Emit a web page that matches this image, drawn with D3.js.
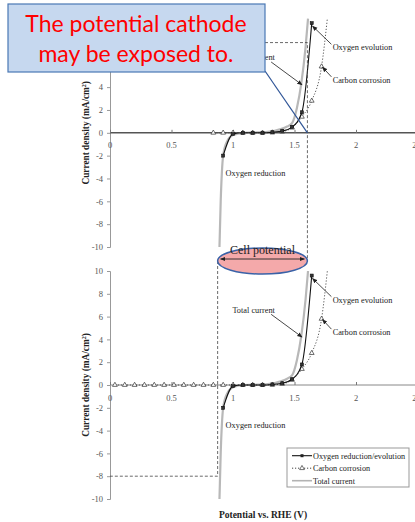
<!DOCTYPE html>
<html><head><meta charset="utf-8">
<script src="https://cdn.jsdelivr.net/npm/d3@7"></script>
<style>body{margin:0;background:#fff}svg{display:block}</style>
</head><body>
<svg id="c" width="415" height="522"></svg>
<script>
// ---------- data ----------
const xTicks = [0, 0.5, 1, 1.5, 2, 2.5];
const xTickLabels = ["0", "0.5", "1", "1.5", "2", "2.5"];
const yTicks = [-10, -8, -6, -4, -2, 0, 2, 4, 6, 8, 10];
const yTickLabels = ["-10", "-8", "-6", "-4", "-2", "0", "2", "4", "6", "8", "10"];
// the top panel's upper tick labels are hidden under the callout box in the reference
const yTickLabelsTopHidden = [6, 8, 10];

const oxygenPoints = [[0.92,-2],[1.0,-0.1],[1.08,0],[1.16,0],[1.24,0],[1.32,0.05],[1.40,0.15],[1.48,0.5],[1.56,1.8],[1.64,9.6]];
const totalCurrent = [[0.89,-10],[0.9,-6],[0.91,-3.4],[0.92,-2],[0.95,-0.8],[1.0,-0.2],[1.08,0],[1.2,0.03],[1.3,0.1],[1.38,0.3],[1.44,0.55],[1.48,0.85],[1.52,2.2],[1.555,4.3],[1.59,7.5],[1.61,10]];
const carbonX = [0.04,0.12,0.2,0.28,0.36,0.44,0.52,0.6,0.68,0.76,0.84,0.92,1.0,1.08,1.16,1.24,1.32,1.40,1.48,1.56,1.64,1.72];
const carbonY = [0,0,0,0,0,0,0,0,0,0,0,0,0,0,0,0,0.02,0.1,0.45,1.4,2.8,5.8];
const carbonEnd = [1.767, 10];

const seriesNames = ["Oxygen reduction/evolution", "Carbon corrosion", "Total current"];
const labels = [
  {text:"Oxygen evolution", x:1.81, y:7.5, ax:[1.80,7.75], at:[1.646,9.35]},
  {text:"Carbon corrosion", x:1.81, y:4.65, ax:[1.80,4.9], at:[1.727,5.75]},
  {text:"Total current", x:0.995, y:6.6, ax:[1.31,6.2], at:[1.562,4.2]},
  {text:"Oxygen reduction", x:0.94, y:-3.5}
];
const dashTop = {x:1.605, y:7.9};
const dashBottom = {x:0.875, y:-8};
const calloutLines = ["The potential cathode", "may be exposed to."];
const cellPotentialText = "Cell potential";

// ---------- scales ----------
const svg = d3.select("#c");
const x = d3.scaleLinear().domain([0, 2.5]).range([110, 417.5]);
const yTop = d3.scaleLinear().domain([-10, 10]).range([247, 18.6]);
const yBot = d3.scaleLinear().domain([-10, 10]).range([499, 271]);
const serif = "'Liberation Serif','Times New Roman',serif";

const defs = svg.append("defs");
defs.append("marker").attr("id","ah").attr("viewBox","0 0 10 10").attr("refX",9).attr("refY",5)
  .attr("markerWidth",6).attr("markerHeight",6).attr("orient","auto-start-reverse")
  .append("path").attr("d","M0,1 L10,5 L0,9 Z").attr("fill","#222");

function drawChart(y, carbonStart, axisColor, axisWidth, hiddenLabels) {
  const g = svg.append("g");
  // y axis
  const ya = g.append("g").attr("transform", `translate(${x(0)},0)`)
    .call(d3.axisLeft(y).tickValues(yTicks).tickSize(3).tickPadding(4)
      .tickFormat((d,i)=>hiddenLabels.includes(d) ? "" : yTickLabels[i]));
  ya.select(".domain").attr("stroke","#999");
  ya.selectAll(".tick line").attr("stroke","#999");
  ya.selectAll("text").attr("font-family",serif).attr("font-size",8.5).attr("fill","#555");
  // x axis at y=0
  const xa = g.append("g").attr("transform", `translate(0,${y(0)})`)
    .call(d3.axisTop(x).tickValues(xTicks).tickSize(3).tickFormat(""));
  xa.select(".domain").attr("stroke",axisColor).attr("stroke-width",axisWidth).attr("d",`M${x(0)},0H415`);
  xa.selectAll(".tick line").attr("stroke","#777");
  g.selectAll(".xl").data(xTicks).enter().append("text")
    .attr("x",d=>x(d)).attr("y",y(0)+15.5).attr("text-anchor","middle")
    .attr("font-family",serif).attr("font-size",8.5).attr("fill","#555")
    .text((d,i)=>xTickLabels[i]);
  // axis title
  const t = g.append("text").attr("transform",`translate(89,${y(0)}) rotate(-90)`)
    .attr("text-anchor","middle").attr("font-family",serif).attr("font-weight","bold")
    .attr("font-size",9.3).attr("fill","#222");
  t.append("tspan").text("Current density (mA/cm");
  t.append("tspan").attr("dy",-3.5).attr("font-size",6).text("2");
  t.append("tspan").attr("dy",3.5).text(")");

  const line = d3.line().x(d=>x(d[0])).y(d=>y(d[1])).curve(d3.curveMonotoneX);
  // total current
  g.append("path").attr("d",line(totalCurrent)).attr("fill","none").attr("stroke","#b8b8b8").attr("stroke-width",2.2);
  // carbon corrosion
  const carbon = carbonX.map((v,i)=>[v,carbonY[i]]).filter(d=>d[0]>=carbonStart);
  g.append("path").attr("d",line(carbon.concat([carbonEnd]))).attr("fill","none")
    .attr("stroke","#444").attr("stroke-width",0.9).attr("stroke-dasharray","1.2,1.8");
  const tri = d3.symbol().type(d3.symbolTriangle).size(10);
  g.selectAll(".tri").data(carbon).enter().append("path").attr("d",tri)
    .attr("transform",d=>`translate(${x(d[0])},${y(d[1])})`)
    .attr("fill","#fff").attr("stroke","#333").attr("stroke-width",0.7);
  // oxygen
  g.append("path").attr("d",line(oxygenPoints)).attr("fill","none").attr("stroke","#111").attr("stroke-width",1.1);
  g.selectAll(".sq").data(oxygenPoints).enter().append("rect")
    .attr("x",d=>x(d[0])-1.5).attr("y",d=>y(d[1])-1.5).attr("width",3).attr("height",3)
    .attr("fill","#333").attr("stroke","#111").attr("stroke-width",0.6);
  // labels
  labels.forEach(l=>{
    g.append("text").attr("x",x(l.x)).attr("y",y(l.y)+3).attr("font-family",serif)
      .attr("font-size",8.3).attr("fill","#222").text(l.text);
    if (l.ax) g.append("line").attr("x1",x(l.ax[0])).attr("y1",y(l.ax[1])).attr("x2",x(l.at[0])).attr("y2",y(l.at[1]))
      .attr("stroke","#333").attr("stroke-width",0.9).attr("marker-end","url(#ah)");
  });
  return g;
}

drawChart(yTop, 0.84, "#555", 1.6, yTickLabelsTopHidden);
drawChart(yBot, 0, "#888", 1, []);

// dashed guides
const ellCy = yBot(10) - 10;
svg.append("path").attr("d",`M${x(0)},${yTop(dashTop.y)}H${x(dashTop.x)}V${ellCy}`)
  .attr("fill","none").attr("stroke","#444").attr("stroke-width",0.8).attr("stroke-dasharray","3,2");
svg.append("path").attr("d",`M${x(dashBottom.x)},${ellCy}V${yBot(dashBottom.y)}H${x(0)}`)
  .attr("fill","none").attr("stroke","#444").attr("stroke-width",0.8).attr("stroke-dasharray","3,2");

// legend
const lg = svg.append("g");
lg.append("rect").attr("x",287).attr("y",448).attr("width",122).attr("height",39).attr("fill","#fff").attr("stroke","#999").attr("stroke-width",1);
seriesNames.forEach((n,i)=>{
  const yy = 455.7 + i*12.5;
  const l = lg.append("line").attr("x1",292).attr("x2",312).attr("y1",yy).attr("y2",yy);
  if (i===0) { l.attr("stroke","#111").attr("stroke-width",1.1);
    lg.append("rect").attr("x",300.5).attr("y",yy-1.5).attr("width",3).attr("height",3).attr("fill","#222"); }
  if (i===1) { l.attr("stroke","#444").attr("stroke-dasharray","1.2,1.8");
    lg.append("path").attr("d",d3.symbol().type(d3.symbolTriangle).size(10)).attr("transform",`translate(302,${yy})`).attr("fill","#fff").attr("stroke","#333").attr("stroke-width",0.7); }
  if (i===2) l.attr("stroke","#b3b3b3").attr("stroke-width",1.6);
  lg.append("text").attr("x",313).attr("y",yy+3).attr("font-family",serif).attr("font-size",8.2).attr("fill","#222").text(n);
});

// x title
svg.append("text").attr("x",263).attr("y",518).attr("text-anchor","middle").attr("font-family",serif)
  .attr("font-weight","bold").attr("font-size",9.5).attr("fill","#222").text("Potential vs. RHE (V)");

// cell potential ellipse
const ex1 = x(dashBottom.x), ex2 = x(dashTop.x);
svg.append("ellipse").attr("cx",(ex1+ex2)/2).attr("cy",ellCy).attr("rx",(ex2-ex1)/2).attr("ry",13)
  .attr("fill","#f4a9aa").attr("stroke","#3a62a7").attr("stroke-width",1.5);
svg.append("line").attr("x1",ex1+3).attr("x2",ex2-3).attr("y1",ellCy-2).attr("y2",ellCy-2)
  .attr("stroke","#222").attr("stroke-width",0.9).attr("marker-end","url(#ah)").attr("marker-start","url(#ah)");
svg.append("text").attr("x",(ex1+ex2)/2).attr("y",ellCy-7).attr("text-anchor","middle").attr("font-family",serif)
  .attr("font-size",12).attr("fill","#222").text(cellPotentialText);

// callout
svg.append("line").attr("x1",265).attr("y1",71).attr("x2",x(dashTop.x)).attr("y2",yTop(0))
  .attr("stroke","#2f5597").attr("stroke-width",1.2);
svg.append("rect").attr("x",8).attr("y",4).attr("width",257).attr("height",68)
  .attr("fill","#c6d8ef").attr("stroke","#4a78b4").attr("stroke-width",1.2);
calloutLines.forEach((t,i)=>{
  svg.append("text").attr("x",136).attr("y",32+i*30).attr("text-anchor","middle")
    .attr("font-family","Lato,'Open Sans',sans-serif").attr("font-size",23).attr("fill","#ff0000").text(t);
});
</script>
</body></html>
